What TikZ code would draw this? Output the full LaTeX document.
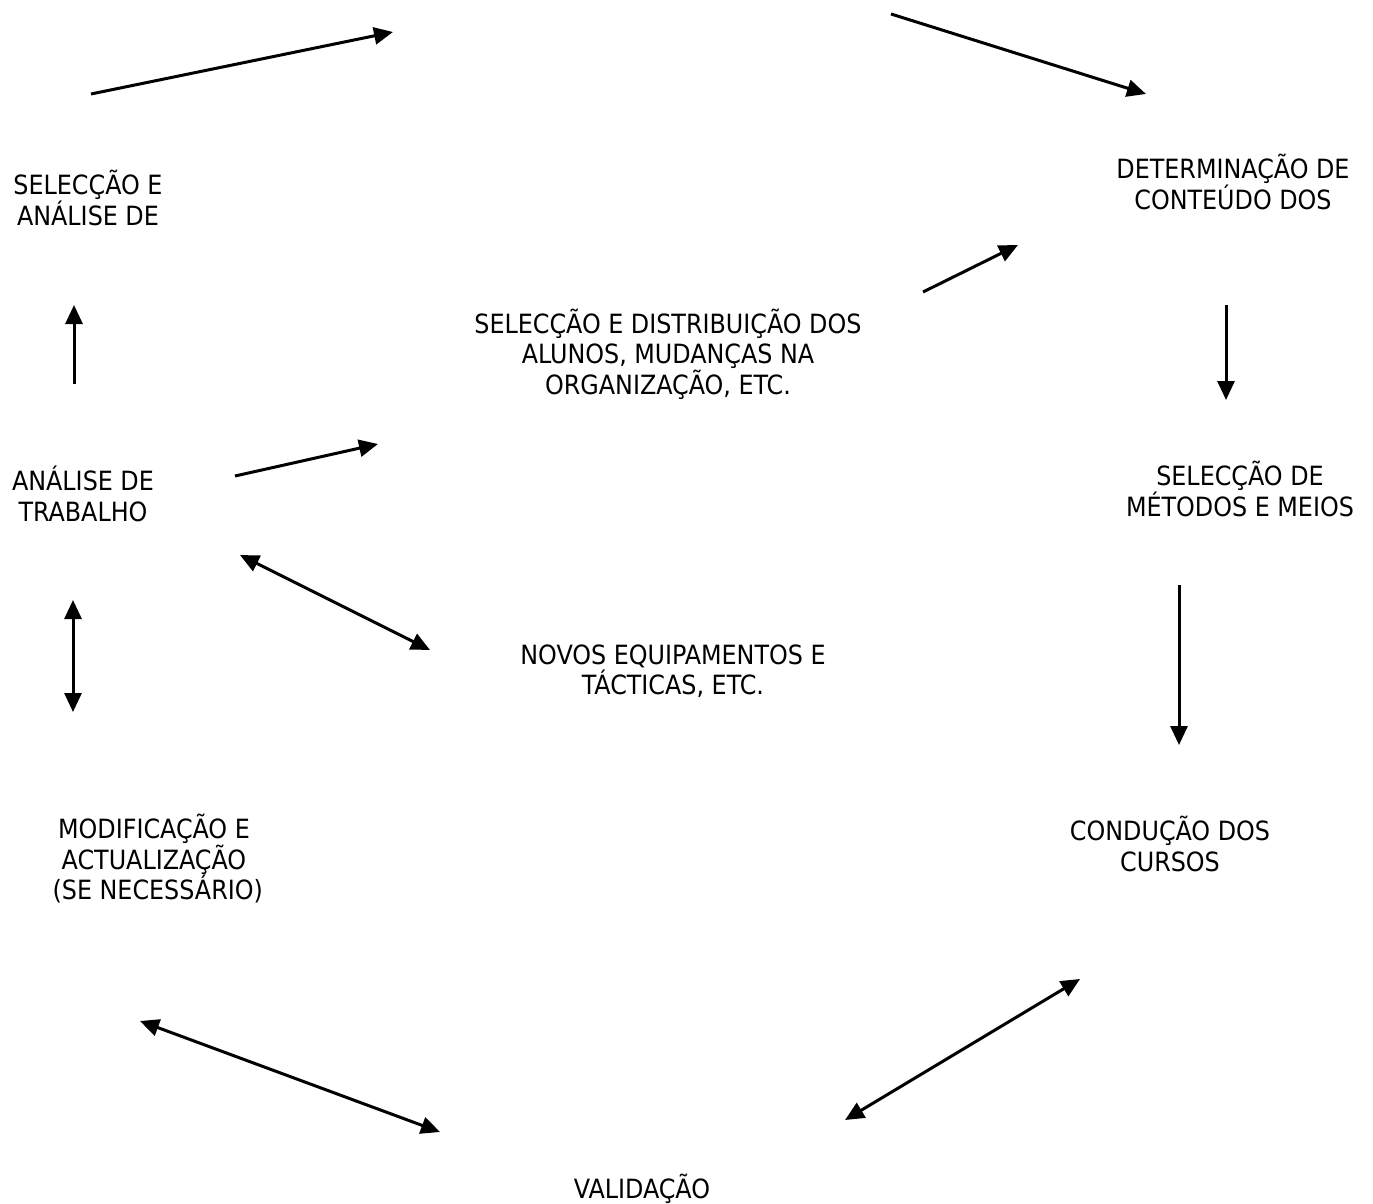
\documentclass[tikz,border=0pt]{standalone}
\usepackage{fontspec}
\setmainfont{DejaVu Sans Condensed}
\usetikzlibrary{arrows.meta, positioning}
\tikzstyle{label} = [align=center, inner sep=0pt, font={\fontsize{26.5pt}{30.5pt}\selectfont}]
\tikzstyle{arrow} = [line width=3pt, -{Triangle[length=19pt,width=17pt]}]
\tikzstyle{both} = [line width=3pt, {Triangle[length=19pt,width=17pt]}-{Triangle[length=19pt,width=17pt]}]

\begin{document}
\begin{tikzpicture}[x=1pt, y=-1pt]
    \useasboundingbox (0,0) rectangle (1373,1204);

    \node (selanalise) [label] at (88,198) {SELECÇÃO E\\ANÁLISE DE};
    \node (conteudo) [label] at (1233,182) {DETERMINAÇÃO DE\\CONTEÚDO DOS};
    \node (alunos) [label] at (668,354) {SELECÇÃO E DISTRIBUIÇÃO DOS\\ALUNOS, MUDANÇAS NA\\ORGANIZAÇÃO, ETC.};
    \node (metodos) [label] at (1240,489) {SELECÇÃO DE\\MÉTODOS E MEIOS};
    \node (analise) [label] at (83,494) {ANÁLISE DE\\TRABALHO};
    \node (novos) [label] at (673,671) {NOVOS EQUIPAMENTOS E\\TÁCTICAS, ETC.};
    \node (modif) [label] at (154,859) {MODIFICAÇÃO E\\ACTUALIZAÇÃO\\~(SE NECESSÁRIO)};
    \node (conducao) [label] at (1170,844) {CONDUÇÃO DOS\\CURSOS};
    \node (validacao) [label] at (642,1189) {VALIDAÇÃO};

    \coordinate (a1) at (91,94);    \coordinate (a2) at (393,32);
    \coordinate (b1) at (891,14);   \coordinate (b2) at (1146,94);
    \coordinate (c1) at (923,292);  \coordinate (c2) at (1018,245);
    \coordinate (d1) at (1226,305); \coordinate (d2) at (1226,400);
    \coordinate (e1) at (74,384);   \coordinate (e2) at (74,305);
    \coordinate (f1) at (235,476);  \coordinate (f2) at (378,444);
    \coordinate (g1) at (240,555);  \coordinate (g2) at (430,650);
    \coordinate (h1) at (73,600);   \coordinate (h2) at (73,712);
    \coordinate (i1) at (1179,585); \coordinate (i2) at (1179,745);
    \coordinate (j1) at (140,1021); \coordinate (j2) at (440,1132);
    \coordinate (k1) at (845,1120); \coordinate (k2) at (1080,979);

    \draw [arrow] (a1) -- (a2);
    \draw [arrow] (b1) -- (b2);
    \draw [arrow] (c1) -- (c2);
    \draw [arrow] (d1) -- (d2);
    \draw [arrow] (e1) -- (e2);
    \draw [arrow] (f1) -- (f2);
    \draw [both] (g1) -- (g2);
    \draw [both] (h1) -- (h2);
    \draw [arrow] (i1) -- (i2);
    \draw [both] (j1) -- (j2);
    \draw [both] (k1) -- (k2);
\end{tikzpicture}
\end{document}
